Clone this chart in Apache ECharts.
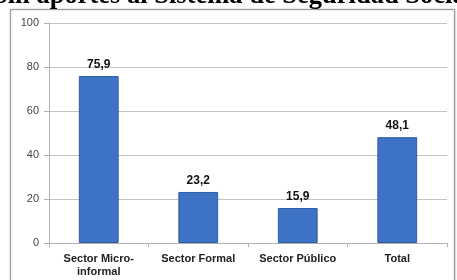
<!DOCTYPE html>
<html>
<head>
<meta charset="utf-8">
<script src="https://cdn.jsdelivr.net/npm/echarts@6/dist/echarts.min.js"></script>
<style>
  html, body { margin: 0; padding: 0; background: #fff; }
  #main { width: 457px; height: 280px; }
</style>
</head>
<body>
<div id="main"></div>
<script>
// datos del gráfico
var categorias = ['Sector Micro-\ninformal', 'Sector Formal', 'Sector Público', 'Total'];
var valores = [75.9, 23.2, 15.9, 48.1];
var etiquetas = ['75,9', '23,2', '15,9', '48,1'];
var titulo = 'Sin aportes al Sistema de Seguridad Social';

var myChart = echarts.init(document.getElementById('main'));

var option = {
    animation: false,
    backgroundColor: '#fff',
    graphic: [
        {
            type: 'rect',
            shape: { x: 10.5, y: 9.5, width: 444, height: 275 },
            style: { fill: '#fff', stroke: '#9a9a9a', lineWidth: 1, shadowBlur: 2, shadowColor: 'rgba(0,0,0,0.25)' },
            z: -10
        },
        {
            type: 'text',
            left: -7,
            top: -17,
            style: {
                text: titulo,
                font: 'bold 26.5px "Liberation Serif", "DejaVu Serif", serif',
                fill: '#000'
            },
            z: 10
        }
    ],
    grid: { left: 49, right: 10, top: 23, bottom: 37 },
    xAxis: {
        type: 'category',
        data: categorias,
        axisLine: { lineStyle: { color: '#b0b0b0' } },
        axisTick: { show: true, length: 4, lineStyle: { color: '#b0b0b0' } },
        axisLabel: {
            interval: 0,
            margin: 9,
            color: '#222',
            fontWeight: 'bold',
            fontSize: 11,
            fontFamily: 'Arial, "Liberation Sans", sans-serif',
            lineHeight: 13
        }
    },
    yAxis: {
        type: 'value',
        min: 0,
        max: 100,
        interval: 20,
        axisLine: { show: true, lineStyle: { color: '#b0b0b0' } },
        axisTick: { show: true, length: 5, lineStyle: { color: '#b0b0b0' } },
        splitLine: { lineStyle: { color: '#c4c4c4' } },
        axisLabel: {
            margin: 10,
            color: '#444',
            fontSize: 11,
            fontFamily: 'Arial, "Liberation Sans", sans-serif'
        }
    },
    series: [
        {
            type: 'bar',
            data: valores,
            barWidth: '40%',
            itemStyle: { color: '#3d72c4', borderColor: '#2d5ea6', borderWidth: 1 },
            label: {
                show: true,
                position: 'top',
                distance: 5,
                formatter: function (p) { return etiquetas[p.dataIndex]; },
                color: '#111',
                fontWeight: 'bold',
                fontSize: 12,
                fontFamily: 'Arial, "Liberation Sans", sans-serif'
            }
        }
    ]
};

myChart.setOption(option);
</script>
</body>
</html>
